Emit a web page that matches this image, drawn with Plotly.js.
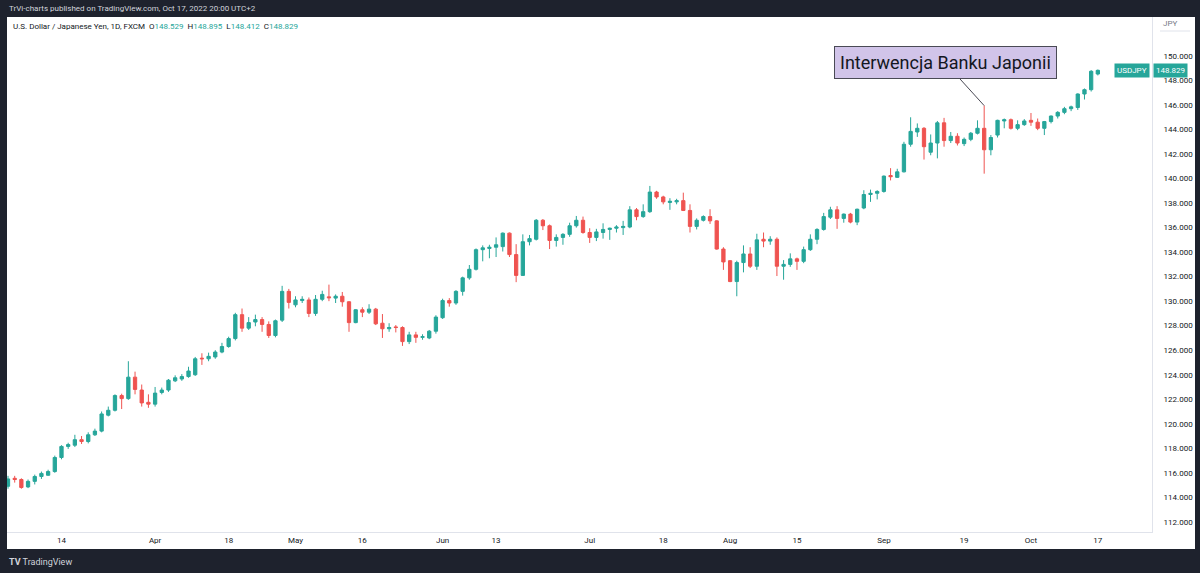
<!DOCTYPE html>
<html>
<head>
<meta charset="utf-8">
<script src="https://cdn.plot.ly/plotly-3.0.1.min.js"></script>
<style>
  html, body { margin: 0; padding: 0; background: #1e222d; }
  #plot { width: 1200px; height: 573px; }
</style>
</head>
<body>
<div id="plot"></div>
<script>
/* USD/JPY daily candles, FXCM, Mar 2 - Oct 17 2022 */
var dates = [
  "2022-03-02","2022-03-03","2022-03-04","2022-03-07","2022-03-08","2022-03-09","2022-03-10","2022-03-11",
  "2022-03-14","2022-03-15","2022-03-16","2022-03-17","2022-03-18","2022-03-21","2022-03-22","2022-03-23",
  "2022-03-24","2022-03-25","2022-03-28","2022-03-29","2022-03-30","2022-03-31",
  "2022-04-01","2022-04-04","2022-04-05","2022-04-06","2022-04-07","2022-04-08","2022-04-11","2022-04-12",
  "2022-04-13","2022-04-14","2022-04-15","2022-04-18","2022-04-19","2022-04-20","2022-04-21","2022-04-22",
  "2022-04-25","2022-04-26","2022-04-27","2022-04-28","2022-04-29",
  "2022-05-02","2022-05-03","2022-05-04","2022-05-05","2022-05-06","2022-05-09","2022-05-10","2022-05-11",
  "2022-05-12","2022-05-13","2022-05-16","2022-05-17","2022-05-18","2022-05-19","2022-05-20","2022-05-23",
  "2022-05-24","2022-05-25","2022-05-26","2022-05-27","2022-05-30","2022-05-31",
  "2022-06-01","2022-06-02","2022-06-03","2022-06-06","2022-06-07","2022-06-08","2022-06-09","2022-06-10",
  "2022-06-13","2022-06-14","2022-06-15","2022-06-16","2022-06-17","2022-06-20","2022-06-21","2022-06-22",
  "2022-06-23","2022-06-24","2022-06-27","2022-06-28","2022-06-29","2022-06-30",
  "2022-07-01","2022-07-04","2022-07-05","2022-07-06","2022-07-07","2022-07-08","2022-07-11","2022-07-12",
  "2022-07-13","2022-07-14","2022-07-15","2022-07-18","2022-07-19","2022-07-20","2022-07-21","2022-07-22",
  "2022-07-25","2022-07-26","2022-07-27","2022-07-28","2022-07-29",
  "2022-08-01","2022-08-02","2022-08-03","2022-08-04","2022-08-05","2022-08-08","2022-08-09","2022-08-10",
  "2022-08-11","2022-08-12","2022-08-15","2022-08-16","2022-08-17","2022-08-18","2022-08-19","2022-08-22",
  "2022-08-23","2022-08-24","2022-08-25","2022-08-26","2022-08-29","2022-08-30","2022-08-31",
  "2022-09-01","2022-09-02","2022-09-05","2022-09-06","2022-09-07","2022-09-08","2022-09-09","2022-09-12",
  "2022-09-13","2022-09-14","2022-09-15","2022-09-16","2022-09-19","2022-09-20","2022-09-21","2022-09-22",
  "2022-09-23","2022-09-26","2022-09-27","2022-09-28","2022-09-29","2022-09-30",
  "2022-10-03","2022-10-04","2022-10-05","2022-10-06","2022-10-07","2022-10-10","2022-10-11","2022-10-12",
  "2022-10-13","2022-10-14","2022-10-17"
];

var opens = [
  114.9,115.55,115.45,114.85,115.3,115.7,115.8,116.1,
  117.25,118.15,118.25,118.7,118.55,119.1,119.4,120.7,
  121.1,122.3,122.05,123.8,122.75,121.75,
  121.6,122.55,122.75,123.5,123.65,123.85,124.0,125.35,
  125.3,125.45,125.85,126.3,126.95,128.9,127.8,128.3,
  128.5,128.1,127.2,128.45,130.8,
  129.7,130.05,130.1,129.0,130.15,130.35,130.25,130.4,
  129.95,128.25,129.3,129.1,129.35,128.2,127.75,127.9,
  127.85,126.7,127.25,127.05,127.0,127.55,
  128.65,130.05,129.85,130.8,131.9,132.6,134.2,134.3,
  134.4,134.45,135.55,133.8,132.1,134.85,135.05,136.6,
  136.15,134.95,135.2,135.45,136.15,136.6,
  135.6,135.2,135.6,135.85,135.95,136.0,136.05,137.45,
  136.9,137.3,138.9,138.5,138.05,138.1,138.2,137.4,
  136.1,136.6,136.9,136.55,134.25,
  133.3,131.6,133.15,133.85,132.85,135.05,134.9,135.05,
  132.85,133.0,133.45,133.25,134.2,135.05,135.85,136.85,
  137.45,136.75,137.1,136.45,137.6,138.7,138.8,
  138.95,140.25,140.1,140.55,142.8,143.8,144.1,142.15,
  142.9,144.55,143.1,143.45,142.85,143.2,143.7,144.1,
  142.35,143.55,144.7,144.8,144.1,144.4,
  144.75,144.6,144.1,144.65,145.1,145.4,145.7,145.8,
  146.9,147.25,148.529
];

var highs = [
  115.75,115.75,115.55,115.45,115.85,116.1,116.25,117.4,
  118.25,118.45,119.1,119.0,119.3,119.6,121.0,121.4,
  122.4,122.45,125.1,124.25,123.2,122.4,
  123.0,122.95,123.65,123.95,124.05,124.65,125.45,125.75,
  125.8,126.0,126.6,127.1,129.05,129.4,128.7,128.9,
  128.7,128.35,128.5,131.25,131.0,
  130.4,130.4,130.3,130.5,130.85,131.35,130.55,130.75,
  130.0,129.35,129.5,129.75,129.45,128.95,128.2,128.05,
  127.95,127.5,127.5,127.3,127.65,128.85,
  130.2,130.25,130.9,132.0,132.95,134.3,134.55,134.6,
  135.2,135.6,135.6,134.65,135.45,135.4,136.7,136.7,
  136.25,135.45,135.55,136.4,136.95,136.9,
  135.95,135.9,136.35,136.0,136.2,136.55,137.75,137.6,
  137.9,139.4,139.0,138.6,138.4,138.35,138.85,137.9,
  136.75,137.0,137.5,136.6,134.4,
  133.35,133.3,134.55,134.4,135.5,135.6,135.3,135.2,
  133.35,133.9,133.55,134.45,135.45,135.95,137.2,137.7,
  137.75,137.15,137.2,137.55,139.05,139.1,139.05,
  140.25,140.85,140.8,143.0,145.0,144.5,144.2,143.6,
  144.7,144.95,143.8,143.7,143.35,143.8,144.75,145.95,
  143.55,144.8,144.9,144.9,144.75,144.85,
  145.35,144.9,144.7,145.15,145.5,145.85,145.95,146.95,
  147.35,148.85,148.895
];

var lows = [
  114.7,115.2,114.7,114.75,115.05,115.5,115.75,116.0,
  117.1,117.95,118.1,118.35,118.4,119.0,119.3,120.6,
  121.0,121.2,121.95,122.4,121.4,121.3,
  121.4,122.4,122.6,123.4,123.5,123.75,123.9,124.8,
  125.1,125.3,125.75,126.2,126.8,127.5,127.65,127.95,
  127.5,127.0,127.05,128.3,129.4,
  129.5,129.85,128.7,128.8,130.0,130.0,129.85,129.55,
  127.5,128.2,128.7,128.95,128.05,127.0,127.5,127.45,
  126.35,126.5,126.6,126.85,126.9,127.35,
  128.55,129.55,129.7,130.45,131.75,132.5,133.25,133.5,
  133.6,134.05,133.6,131.55,132.1,134.55,134.95,135.8,
  134.25,134.45,134.6,135.25,136.0,135.5,
  134.75,134.9,135.1,135.0,135.6,135.4,135.95,136.6,
  136.8,137.2,138.35,137.9,137.45,137.9,137.35,135.6,
  135.85,136.5,136.3,134.2,132.55,
  131.55,130.4,132.35,132.7,132.55,134.4,134.6,132.05,
  131.75,132.8,132.55,133.1,134.1,134.65,135.75,136.7,
  135.9,136.4,136.35,136.2,137.5,138.1,138.3,
  138.85,139.85,140.05,140.5,142.6,143.4,141.55,141.9,
  141.65,142.6,142.9,142.7,142.65,143.05,143.6,140.4,
  141.9,143.35,144.1,144.0,143.95,144.3,
  144.3,143.95,143.55,144.5,144.9,145.25,145.5,145.6,
  146.45,147.1,148.412
];

var closes = [
  115.5,115.45,114.8,115.3,115.7,115.95,116.1,117.25,
  118.15,118.3,118.7,118.55,119.1,119.4,120.8,121.1,
  122.3,122.05,123.8,122.8,121.7,121.6,
  122.5,122.75,123.55,123.75,123.85,124.3,125.3,125.3,
  125.5,125.85,126.3,126.95,128.9,127.8,128.25,128.5,
  128.1,127.2,128.4,130.8,129.9,
  130.1,130.15,129.0,130.15,130.55,130.28,130.4,129.95,
  128.25,129.3,129.1,129.35,128.15,127.75,127.85,127.85,
  126.7,127.25,127.05,127.1,127.55,128.7,
  130.05,129.85,130.8,131.9,132.6,134.2,134.35,134.4,
  134.6,135.55,133.8,132.1,134.85,135.1,136.6,136.15,
  134.95,135.2,135.45,136.15,136.6,135.6,
  135.2,135.65,135.85,135.95,136.05,136.1,137.45,136.9,
  137.3,138.9,138.5,138.1,138.15,138.2,137.4,136.1,
  136.6,136.9,136.55,134.25,133.2,
  131.6,133.15,133.85,132.85,135.0,134.9,135.05,132.85,
  133.0,133.45,133.25,134.2,135.05,135.85,136.9,137.45,
  136.75,137.1,136.45,137.5,138.7,138.8,138.95,
  140.2,140.15,140.55,142.8,143.85,144.1,142.6,142.9,
  144.55,143.1,143.45,142.9,143.2,143.7,144.1,142.35,
  143.35,144.75,144.8,144.1,144.4,144.7,
  144.6,144.1,144.65,145.1,145.4,145.7,145.85,146.9,
  147.25,148.75,148.829
];

var tickDates = ["2022-03-14","2022-04-01","2022-04-18","2022-05-02","2022-05-16","2022-06-01","2022-06-13",
  "2022-07-01","2022-07-18","2022-08-01","2022-08-15","2022-09-01","2022-09-19","2022-10-03","2022-10-17"];
var tickLabels = ["14","Apr","18","May","16","Jun","13","Jul","18","Aug","15","Sep","19","Oct","17"];
var priceTicks = [112,114,116,118,120,122,124,126,128,130,132,134,136,138,140,142,144,146,148,150];

var interventionDay = "2022-09-22";

var UP = "#26a69a", DOWN = "#ef5350";
var W = 1200, H = 573, L = 7, R = 1152, T = 17, B = 532;
function px(x) { return (x - L) / (R - L); }
function py(y) { return (B - y) / (B - T); }

var trace = {
  type: "candlestick",
  x: dates, open: opens, high: highs, low: lows, close: closes,
  increasing: {line: {color: UP, width: 1}, fillcolor: UP},
  decreasing: {line: {color: DOWN, width: 1}, fillcolor: DOWN},
  whiskerwidth: 0,
  hoverinfo: "skip",
  showlegend: false
};

var iv = dates.indexOf(interventionDay);
var last = closes.length - 1;
var font = "Roboto, 'Liberation Sans', sans-serif";

var layout = {
  width: W, height: H,
  margin: {l: L, r: W - R, t: T, b: H - B, pad: 0},
  paper_bgcolor: "#1e222d",
  plot_bgcolor: "#ffffff",
  font: {family: font, size: 8, color: "#131722"},
  showlegend: false,
  xaxis: {
    type: "category",
    range: [-0.15, 171.1],
    tickvals: tickDates, ticktext: tickLabels,
    showgrid: false, zeroline: false,
    showline: true, linecolor: "#e0e3eb", linewidth: 1,
    ticks: "", tickfont: {size: 8, color: "#131722"},
    rangeslider: {visible: false},
    fixedrange: true
  },
  yaxis: {
    side: "right",
    range: [111.17, 153.18],
    tickvals: priceTicks, tickformat: ".3f",
    showgrid: false, zeroline: false,
    showline: true, linecolor: "#e0e3eb", linewidth: 1,
    ticks: "", ticklabelstandoff: 9,
    tickfont: {size: 8, color: "#131722"},
    fixedrange: true
  },
  shapes: [
    {type: "rect", xref: "paper", yref: "paper", layer: "below",
     x0: 0, x1: px(1195), y0: py(549), y1: 1,
     fillcolor: "#ffffff", line: {width: 0}},
    {type: "line", xref: "paper", yref: "paper",
     x0: px(1160), x1: px(1190), y0: py(31), y1: py(31),
     line: {color: "#e0e3eb", width: 1}}
  ],
  annotations: [
    {xref: "paper", yref: "paper", x: px(7), y: py(9), xanchor: "left", yanchor: "middle",
     showarrow: false, text: "TrVi-charts published on TradingView.com, Oct 17, 2022 20:00 UTC+2",
     font: {size: 8, color: "#d1d4dc"}},
    {xref: "paper", yref: "paper", x: px(11), y: py(27), xanchor: "left", yanchor: "middle",
     showarrow: false,
     text: "U.S. Dollar / Japanese Yen, 1D, FXCM  O<span style='color:" + UP + "'>" + opens[last].toFixed(3) +
           "</span>  H<span style='color:" + UP + "'>" + highs[last].toFixed(3) +
           "</span>  L<span style='color:" + UP + "'>" + lows[last].toFixed(3) +
           "</span>  C<span style='color:" + UP + "'>" + closes[last].toFixed(3) + "</span>",
     font: {size: 8, color: "#131722"}},
    {xref: "paper", yref: "paper", x: px(1161), y: py(24), xanchor: "left", yanchor: "middle",
     showarrow: false, text: "JPY", font: {size: 8, color: "#787b86"}},
    {xref: "paper", yref: "y", x: px(1150), y: closes[last], xanchor: "right", yanchor: "middle",
     showarrow: false, text: "USDJPY", bgcolor: UP, borderpad: 2,
     font: {size: 8, color: "#ffffff"}},
    {xref: "paper", yref: "y", x: px(1153), y: closes[last], xanchor: "left", yanchor: "middle",
     showarrow: false, text: closes[last].toFixed(3), bgcolor: UP, borderpad: 2,
     font: {size: 8, color: "#ffffff"}},
    {xref: "x", yref: "y", x: dates[iv], y: highs[iv],
     text: "Interwencja Banku Japonii",
     showarrow: true, arrowhead: 0, arrowwidth: 1, arrowcolor: "#4a4a55",
     ax: -39, ay: -43,
     bgcolor: "#d1c4e9", bordercolor: "#4a4a55", borderwidth: 1, borderpad: 5,
     font: {family: font, size: 18, color: "#131722"}},
    {xref: "paper", yref: "paper", x: px(7), y: py(562), xanchor: "left", yanchor: "middle",
     showarrow: false, text: "<b>TV</b> TradingView",
     font: {size: 9, color: "#d1d4dc"}}
  ]
};

Plotly.newPlot("plot", [trace], layout, {displayModeBar: false, staticPlot: true});
</script>
</body>
</html>
